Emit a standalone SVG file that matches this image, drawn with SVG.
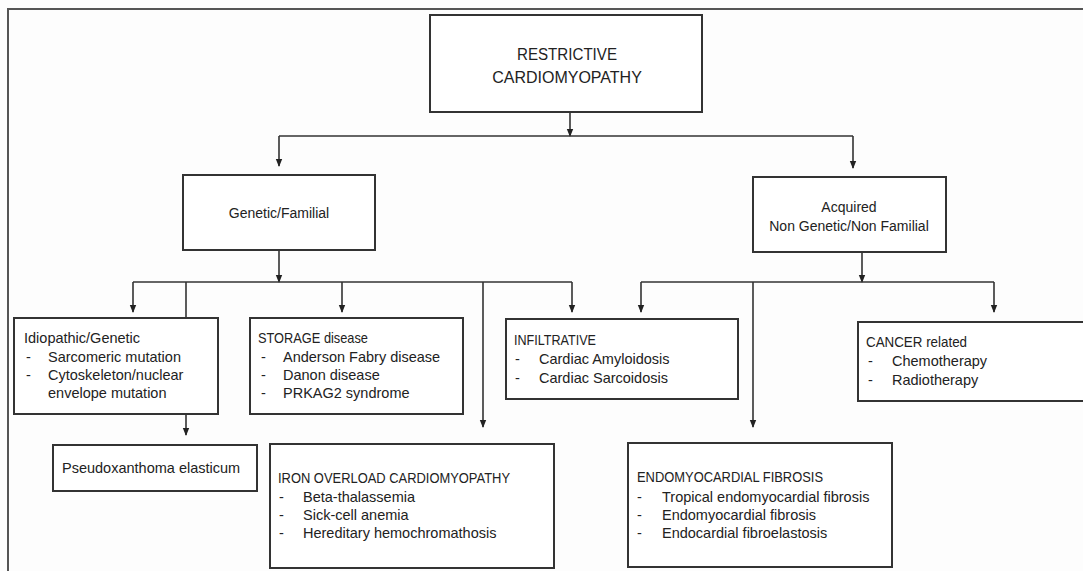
<svg xmlns="http://www.w3.org/2000/svg" width="1083" height="571" viewBox="0 0 1083 571">
<defs>
<marker id="ah" viewBox="0 0 8 8" refX="7" refY="4" markerWidth="8" markerHeight="8" markerUnits="userSpaceOnUse" orient="auto">
<path d="M0,0.8 L8,4 L0,7.2 Z" fill="#222"/>
</marker>
<style>
.box{fill:#fff;stroke:#333;stroke-width:2}
.ln{fill:none;stroke:#333;stroke-width:1.6}
.arr{fill:none;stroke:#333;stroke-width:1.6;marker-end:url(#ah)}
text{font-family:"Liberation Sans",Arial,sans-serif;fill:#222}
.t{font-size:14.5px}
.c{font-size:14px;text-anchor:middle}
.h{font-size:16px;text-anchor:middle}
</style>
</defs>
<rect width="1083" height="571" fill="#fdfdfd"/>
<path d="M8,571 L8,9 L1083,9" fill="none" stroke="#555" stroke-width="2"/>

<g id="connectors">
<path class="arr" d="M570,112 L570,136"/>
<path class="ln" d="M279,136 L853,136"/>
<path class="arr" d="M279,136 L279,166"/>
<path class="arr" d="M853,136 L853,168"/>
<path class="arr" d="M279,250 L279,282"/>
<path class="ln" d="M133,282 L572,282"/>
<path class="arr" d="M133,282 L133,312"/>
<path class="arr" d="M186,282 L186,435"/>
<path class="arr" d="M342,282 L342,312"/>
<path class="arr" d="M483,282 L483,427"/>
<path class="arr" d="M572,282 L572,312"/>
<path class="arr" d="M862,252 L862,282"/>
<path class="ln" d="M641,282 L994,282"/>
<path class="arr" d="M641,282 L641,312"/>
<path class="arr" d="M753,282 L753,427"/>
<path class="arr" d="M994,282 L994,312"/>
</g>

<g id="root">
<rect class="box" x="430" y="15" width="272" height="97"/>
<text class="h" x="567" y="60" textLength="100" lengthAdjust="spacingAndGlyphs">RESTRICTIVE</text>
<text class="h" x="567" y="83">CARDIOMYOPATHY</text>
</g>

<g id="genetic">
<rect class="box" x="183" y="175" width="192" height="75"/>
<text class="c" x="279" y="218">Genetic/Familial</text>
</g>

<g id="acquired">
<rect class="box" x="753" y="177" width="193" height="75"/>
<text class="c" x="849" y="212">Acquired</text>
<text class="c" x="849" y="231">Non Genetic/Non Familial</text>
</g>

<g id="idiopathic">
<rect class="box" x="14" y="318" width="204" height="96"/>
<text class="t" x="24" y="343">Idiopathic/Genetic</text>
<text class="t" x="26" y="362">-</text><text class="t" x="48" y="362">Sarcomeric mutation</text>
<text class="t" x="26" y="380">-</text><text class="t" x="48" y="380">Cytoskeleton/nuclear</text>
<text class="t" x="48" y="398">envelope mutation</text>
</g>

<g id="storage">
<rect class="box" x="250" y="318" width="213" height="96"/>
<text class="t" x="258" y="343" textLength="110" lengthAdjust="spacingAndGlyphs">STORAGE disease</text>
<text class="t" x="261" y="362">-</text><text class="t" x="283" y="362">Anderson Fabry disease</text>
<text class="t" x="261" y="380">-</text><text class="t" x="283" y="380">Danon disease</text>
<text class="t" x="261" y="398">-</text><text class="t" x="283" y="398">PRKAG2 syndrome</text>
</g>

<g id="pseudoxanthoma">
<rect class="box" x="53" y="445" width="204" height="46"/>
<text class="t" x="62" y="473">Pseudoxanthoma elasticum</text>
</g>

<g id="iron">
<rect class="box" x="270" y="444" width="284" height="124"/>
<text class="t" x="278" y="483" textLength="232" lengthAdjust="spacingAndGlyphs">IRON OVERLOAD CARDIOMYOPATHY</text>
<text class="t" x="279" y="502">-</text><text class="t" x="303" y="502">Beta-thalassemia</text>
<text class="t" x="279" y="520">-</text><text class="t" x="303" y="520">Sick-cell anemia</text>
<text class="t" x="279" y="538">-</text><text class="t" x="303" y="538">Hereditary hemochromathosis</text>
</g>

<g id="infiltrative">
<rect class="box" x="506" y="319" width="232" height="80"/>
<text class="t" x="514" y="345" textLength="82" lengthAdjust="spacingAndGlyphs">INFILTRATIVE</text>
<text class="t" x="515" y="364">-</text><text class="t" x="539" y="364">Cardiac Amyloidosis</text>
<text class="t" x="515" y="383">-</text><text class="t" x="539" y="383">Cardiac Sarcoidosis</text>
</g>

<g id="endomyocardial">
<rect class="box" x="628" y="443" width="264" height="124"/>
<text class="t" x="637" y="482" textLength="186" lengthAdjust="spacingAndGlyphs">ENDOMYOCARDIAL FIBROSIS</text>
<text class="t" x="637" y="502">-</text><text class="t" x="662" y="502">Tropical endomyocardial fibrosis</text>
<text class="t" x="637" y="520">-</text><text class="t" x="662" y="520">Endomyocardial fibrosis</text>
<text class="t" x="637" y="538">-</text><text class="t" x="662" y="538">Endocardial fibroelastosis</text>
</g>

<g id="cancer">
<rect class="box" x="858" y="322" width="235" height="79"/>
<text class="t" x="866" y="347" textLength="101" lengthAdjust="spacingAndGlyphs">CANCER related</text>
<text class="t" x="868" y="366">-</text><text class="t" x="892" y="366">Chemotherapy</text>
<text class="t" x="868" y="385">-</text><text class="t" x="892" y="385">Radiotherapy</text>
</g>
</svg>
